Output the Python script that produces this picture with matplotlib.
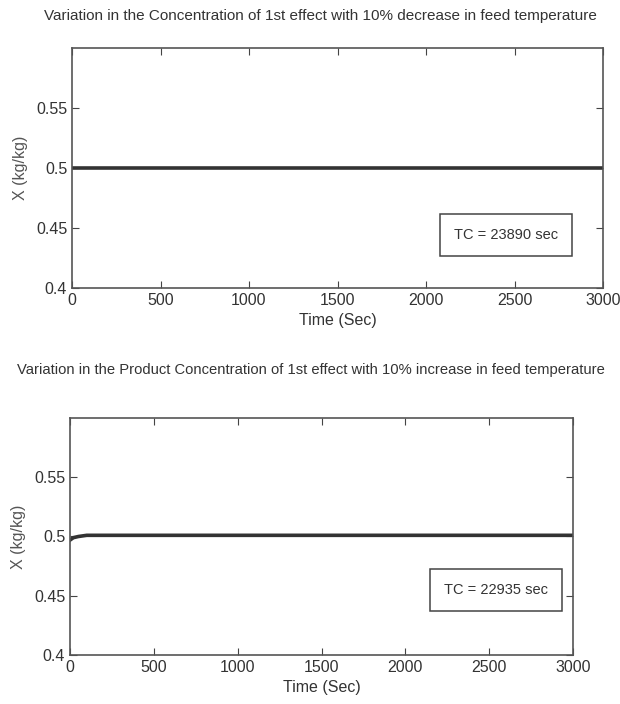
import matplotlib
matplotlib.use('Agg')
import matplotlib.pyplot as plt

plt.rcParams['font.family'] = ['Liberation Sans', 'DejaVu Sans']

# data
t_top = [0, 500, 1000, 1500, 2000, 2500, 3000]
x_top = [0.5, 0.5, 0.5, 0.5, 0.5, 0.5, 0.5]

t_bot = [0, 20, 50, 100, 200, 500, 1000, 1500, 2000, 2500, 3000]
x_bot = [0.497, 0.499, 0.5, 0.501, 0.501, 0.501, 0.501, 0.501, 0.501, 0.501, 0.501]

xticks = [0, 500, 1000, 1500, 2000, 2500, 3000]
yticks = [0.4, 0.45, 0.5, 0.55]
ylabels = ['0.4', '0.45', '0.5', '0.55']

titles = ['Variation in the Concentration of 1st effect with 10% decrease in feed temperature',
          'Variation in the Product Concentration of 1st effect with 10% increase in feed temperature']
tc_text = ['TC = 23890 sec', 'TC = 22935 sec']

W, H = 620, 704
fig = plt.figure(figsize=(W / 100, H / 100), dpi=100)

# axes boxes in pixels: left, top, right, bottom
boxes = [(72, 48, 603, 288), (70, 418, 573, 655)]
title_xy = [(320, 16), (311, 370)]
title_fs = [11, 10.6]
legend_pos = [(0.915, 0.22), (0.95, 0.274)]

for i, (l, t, r, b) in enumerate(boxes):
    ax = fig.add_axes([l / W, 1 - b / H, (r - l) / W, (b - t) / H])
    if i == 0:
        ax.plot(t_top, x_top, color='#333333', lw=2.6)
    else:
        ax.plot(t_bot, x_bot, color='#333333', lw=2.6)
    ax.set_xlim(0, 3000)
    ax.set_ylim(0.4, 0.6)
    ax.set_xticks(xticks)
    ax.set_yticks(yticks)
    ax.set_yticklabels(ylabels)
    ax.tick_params(direction='in', top=True, right=True, labelsize=11.5,
                   length=5, colors='#444444', labelcolor='#333333')
    for s in ax.spines.values():
        s.set_color('#555555')
        s.set_linewidth(1.2)
    ax.set_xlabel('Time (Sec)', fontsize=11.5, color='#333333', labelpad=4)
    ax.set_ylabel('X (kg/kg)', fontsize=11.5, color='#555555', labelpad=6)
    fig.text(title_xy[i][0] / W, 1 - title_xy[i][1] / H, titles[i], ha='center', va='center',
             fontsize=title_fs[i], color='#333333')
    ax.text(legend_pos[i][0], legend_pos[i][1], tc_text[i], transform=ax.transAxes,
            ha='right', va='center', fontsize=10.5, color='#333333',
            bbox=dict(boxstyle='square,pad=0.95', fc='white', ec='#444444', lw=1.1))

fig.savefig('out.png', dpi=100)
